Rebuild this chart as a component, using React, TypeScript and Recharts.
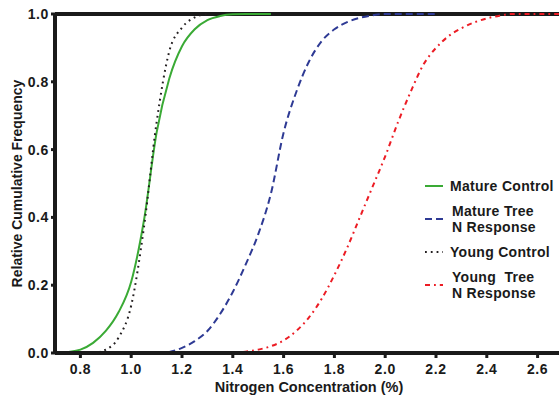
import {
  LineChart,
  Line,
  XAxis,
  YAxis,
  Legend,
  ReferenceLine,
} from 'recharts';

const xTicks = [0.8, 1.0, 1.2, 1.4, 1.6, 1.8, 2.0, 2.2, 2.4, 2.6];
const yTicks = [0, 0.2, 0.4, 0.6, 0.8, 1.0];

const matureControlX = [0.7, 0.75, 0.8, 0.85, 0.9, 0.95, 1.0, 1.05, 1.1, 1.15, 1.2, 1.25, 1.3, 1.35, 1.4, 1.45, 1.55];
const matureControlY = [0, 0.003, 0.01, 0.03, 0.065, 0.12, 0.21, 0.39, 0.65, 0.81, 0.905, 0.955, 0.982, 0.994, 0.999, 1, 1];

const matureTreeX = [0.8, 1.1, 1.15, 1.2, 1.25, 1.3, 1.35, 1.4, 1.45, 1.5, 1.55, 1.6, 1.65, 1.7, 1.75, 1.8, 1.85, 1.9, 1.95, 2.0, 2.2];
const matureTreeY = [0, 0, 0.003, 0.015, 0.035, 0.065, 0.115, 0.18, 0.26, 0.35, 0.47, 0.65, 0.77, 0.86, 0.92, 0.955, 0.976, 0.989, 0.996, 1, 1];

const youngControlX = [0.85, 0.9, 0.95, 1.0, 1.05, 1.1, 1.15, 1.2, 1.25, 1.3];
const youngControlY = [0, 0.01, 0.045, 0.14, 0.37, 0.68, 0.89, 0.96, 0.99, 1];

const youngTreeX = [0.8, 1.4, 1.45, 1.5, 1.55, 1.6, 1.65, 1.7, 1.75, 1.8, 1.85, 1.9, 1.95, 2.0, 2.05, 2.1, 2.15, 2.2, 2.25, 2.3, 2.35, 2.4, 2.45, 2.5, 2.7];
const youngTreeY = [0, 0, 0.004, 0.01, 0.02, 0.037, 0.065, 0.105, 0.16, 0.23, 0.31, 0.4, 0.49, 0.58, 0.68, 0.77, 0.85, 0.9, 0.935, 0.958, 0.975, 0.987, 0.995, 1, 1];

const toPoints = (xs: number[], ys: number[]) => xs.map((x, i) => ({ x, y: ys[i] }));

const FONT = '"Liberation Sans", Arial, Helvetica, sans-serif';
const AXIS = '#1a1a1a';
const TEXT = '#1a1a1a';

const SERIES = [
  { key: 'mc', lines: ['Mature Control'], color: '#3aaa35', dash: undefined, data: toPoints(matureControlX, matureControlY) },
  { key: 'mt', lines: ['Mature Tree', 'N Response'], color: '#2e3a94', dash: '7 4', data: toPoints(matureTreeX, matureTreeY) },
  { key: 'yc', lines: ['Young Control'], color: '#231f20', dash: '1.8 4', data: toPoints(youngControlX, youngControlY) },
  { key: 'yt', lines: ['Young  Tree', 'N Response'], color: '#ec1c24', dash: '5 4 1.8 4', data: toPoints(youngTreeX, youngTreeY) },
];

function LegendBox() {
  return (
    <div style={{ fontFamily: FONT, fontWeight: 'bold', fontSize: 14, letterSpacing: 0.3, color: TEXT }}>
      {SERIES.map((s) => (
        <div key={s.key} style={{ display: 'flex', alignItems: 'center', marginBottom: 9 }}>
          <svg width={18} height={6} style={{ marginRight: s.lines.length > 1 ? 9 : 7 }}>
            <line x1={0} y1={3} x2={18} y2={3} stroke={s.color} strokeWidth={2} strokeDasharray={s.dash} />
          </svg>
          <div style={{ lineHeight: '16px', whiteSpace: 'pre' }}>
            {s.lines.map((l) => (
              <div key={l}>{l}</div>
            ))}
          </div>
        </div>
      ))}
    </div>
  );
}

const tickStyle = { fill: TEXT, fontSize: 14, fontWeight: 'bold', fontFamily: FONT, letterSpacing: 0.6 };
const titleStyle = { fill: TEXT, fontSize: 14.5, fontWeight: 'bold', fontFamily: FONT };

export default function App() {
  return (
    <div style={{ position: 'absolute', left: 0, top: 0, background: '#fff' }}>
      <LineChart width={570} height={399} margin={{ top: 14, right: 7, bottom: 0, left: 0 }}>
        <XAxis
          type="number"
          dataKey="x"
          domain={[0.7, 2.7]}
          ticks={xTicks}
          tickFormatter={(v: number) => v.toFixed(1)}
          allowDataOverflow
          height={46}
          axisLine={{ stroke: AXIS, strokeWidth: 4 }}
          tickLine={{ stroke: AXIS, strokeWidth: 3 }}
          tickSize={5}
          tickMargin={6}
          tick={tickStyle}
          label={{
            value: 'Nitrogen Concentration (%)',
            position: 'insideBottom',
            offset: 7,
            style: titleStyle,
          }}
        />
        <YAxis
          type="number"
          dataKey="y"
          domain={[0, 1]}
          ticks={yTicks}
          tickFormatter={(v: number) => v.toFixed(1)}
          width={55}
          axisLine={{ stroke: AXIS, strokeWidth: 4 }}
          tickLine={{ stroke: AXIS, strokeWidth: 3 }}
          tickSize={4}
          tickMargin={2}
          tick={tickStyle}
          label={{
            value: 'Relative Cumulative Frequency',
            angle: -90,
            position: 'insideLeft',
            offset: 17,
            style: { ...titleStyle, fontSize: 14, textAnchor: 'middle' },
          }}
        />
        <ReferenceLine y={1} stroke={AXIS} strokeWidth={4} />
        {SERIES.map((s) => (
          <Line
            key={s.key}
            data={s.data}
            dataKey="y"
            name={s.lines.join(' ')}
            type="monotone"
            stroke={s.color}
            strokeWidth={2}
            strokeDasharray={s.dash}
            dot={false}
            activeDot={false}
            isAnimationActive={false}
          />
        ))}
        <Legend
          layout="horizontal"
          align="center"
          verticalAlign="middle"
          content={() => <LegendBox />}
          wrapperStyle={{ position: 'absolute', left: 425, top: 178, width: 140 }}
        />
      </LineChart>
    </div>
  );
}
